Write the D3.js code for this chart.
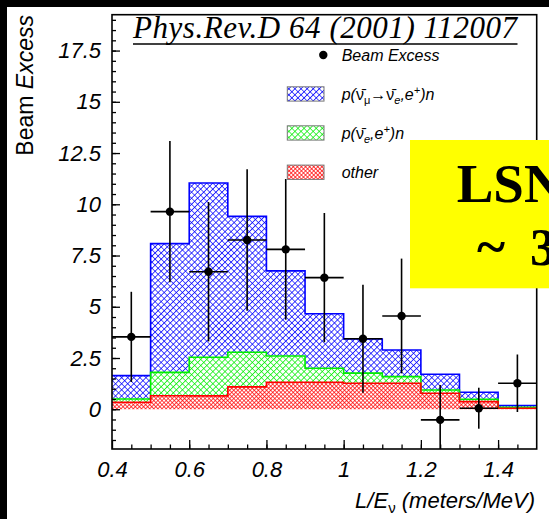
<!DOCTYPE html>
<html>
<head>
<meta charset="utf-8">
<script src="https://cdn.jsdelivr.net/npm/d3@7"></script>
<style>
  body { margin: 0; background: #fff; }
  text { font-family: "Liberation Sans", Arial, sans-serif; }
  .serif { font-family: "Liberation Serif", "Times New Roman", serif; }
</style>
</head>
<body>
<svg id="chart" width="549" height="519"></svg>
<script>
// bin lower edges of L/E (meters/MeV), each bin 0.1 wide
const binLo = [0.4, 0.5, 0.6, 0.7, 0.8, 0.9, 1.0, 1.1, 1.2, 1.3, 1.4];
const binWidth = 0.1;

// stacked expectations (not cumulative)
const other = [0.34, 0.66, 0.65, 1.09, 1.32, 1.32, 1.27, 1.27, 0.78, 0.37, 0.05];
const nueBkg = [0.16, 1.14, 1.89, 1.69, 1.28, 0.68, 0.49, 0.32, 0.16, 0.12, 0.05];
const oscSignal = [1.14, 6.28, 8.50, 6.63, 4.15, 2.66, 1.67, 1.30, 0.77, 0.34, 0.08];

// beam excess data points and their errors
const beamExcess = [3.53, 9.64, 6.71, 8.26, 7.80, 6.42, 3.44, 4.55, -0.52, 0.05, 1.27];
const beamErr = [2.2, 3.45, 3.4, 3.45, 3.43, 3.15, 2.64, 2.8, 1.7, 1.0, 1.4];

const yMajor = [0, 2.5, 5, 7.5, 10, 12.5, 15, 17.5];
const yLabels = ["0", "2.5", "5", "7.5", "10", "12.5", "15", "17.5"];
const xMajor = [0.4, 0.6, 0.8, 1.0, 1.2, 1.4];
const xLabels = ["0.4", "0.6", "0.8", "1", "1.2", "1.4"];

const svg = d3.select("#chart");
const frame = {left: 112, right: 536.7, top: 14.7, bottom: 449};

const x = d3.scaleLinear().domain([0.4, 1.5]).range([frame.left, frame.right]);
const y = d3.scaleLinear().domain([-1.94, 19.25]).range([frame.bottom, frame.top]);

// page background, with the dark slide edge on the left and top
svg.append("rect").attr("width", 549).attr("height", 519).attr("fill", "#fff");
svg.append("rect").attr("width", 7).attr("height", 519).attr("fill", "#000");
svg.append("rect").attr("width", 549).attr("height", 7).attr("fill", "#000");

const defs = svg.append("defs");
function hatch(id, color, size, sw) {
  const p = defs.append("pattern").attr("id", id)
    .attr("patternUnits", "userSpaceOnUse")
    .attr("width", size).attr("height", size)
    .attr("patternTransform", "rotate(45)");
  p.append("rect").attr("width", size).attr("height", size).attr("fill", "#fff");
  p.append("path").attr("d", `M0,0 H${size} M0,0 V${size}`)
    .attr("stroke", color).attr("stroke-width", sw * 2).attr("fill", "none");
  return "url(#" + id + ")";
}
const layerStyle = {
  osc: {color: "#0000ff", fill: hatch("hBlue", "#0000ff", 4.3, 0.75)},
  nue: {color: "#00ee00", fill: hatch("hGreen", "#00ee00", 4.3, 0.75)},
  other: {color: "#ff0000", fill: hatch("hRed", "#ff0000", 2.9, 0.7)}
};

svg.append("clipPath").attr("id", "plotClip")
  .append("rect").attr("x", frame.left).attr("y", frame.top)
  .attr("width", frame.right - frame.left).attr("height", frame.bottom - frame.top);

const table = binLo.map((lo, i) => ({lo: lo, other: other[i], nue: nueBkg[i], osc: oscSignal[i]}));
const stacked = d3.stack().keys(["other", "nue", "osc"])(table);

const plot = svg.append("g").attr("clip-path", "url(#plotClip)");

function stepPoints(layer) {
  const pts = layer.map(d => ({x: d.data.lo, y0: d[0], y1: d[1]}));
  const last = pts[pts.length - 1];
  pts.push({x: last.x + binWidth, y0: last.y0, y1: last.y1});
  return pts;
}
const area = d3.area().curve(d3.curveStepAfter)
  .x(d => x(d.x)).y0(d => y(d.y0)).y1(d => y(d.y1));
const topLine = d3.line().curve(d3.curveStepAfter)
  .x(d => x(d.x)).y(d => y(d.y1));

// draw the top layer first so lower layers sit over it, like ROOT's stack
stacked.slice().reverse().forEach(layer => {
  const pts = stepPoints(layer);
  plot.append("path").attr("d", area(pts)).attr("fill", layerStyle[layer.key].fill);
});
stacked.slice().reverse().forEach(layer => {
  const pts = stepPoints(layer);
  plot.append("path").attr("d", topLine(pts)).attr("fill", "none")
    .attr("stroke", layerStyle[layer.key].color).attr("stroke-width", 1.6);
});

// data points with error bars
const pts = plot.append("g").selectAll("g").data(binLo).join("g");
pts.append("line")
  .attr("x1", d => x(d)).attr("x2", d => x(d + binWidth))
  .attr("y1", (d, i) => y(beamExcess[i])).attr("y2", (d, i) => y(beamExcess[i]))
  .attr("stroke", "#000").attr("stroke-width", 1.6);
pts.append("line")
  .attr("x1", d => x(d + binWidth / 2)).attr("x2", d => x(d + binWidth / 2))
  .attr("y1", (d, i) => y(beamExcess[i] - beamErr[i]))
  .attr("y2", (d, i) => y(beamExcess[i] + beamErr[i]))
  .attr("stroke", "#000").attr("stroke-width", 1.6);
pts.append("circle")
  .attr("cx", d => x(d + binWidth / 2)).attr("cy", (d, i) => y(beamExcess[i]))
  .attr("r", 4.2).attr("fill", "#000");

// axes, ticks pointing into the frame
const yAxis = svg.append("g").attr("transform", `translate(${frame.left},0)`)
  .call(d3.axisLeft(y).tickValues(yMajor).tickSize(-8).tickPadding(11)
    .tickFormat((d, i) => yLabels[i]));
const yMinor = svg.append("g").attr("transform", `translate(${frame.left},0)`)
  .call(d3.axisLeft(y).tickValues(d3.range(-1.5, 19.01, 0.5)).tickSize(-4).tickFormat(""));
const xAxis = svg.append("g").attr("transform", `translate(0,${frame.bottom})`)
  .call(d3.axisBottom(x).tickValues(xMajor).tickSize(-9).tickPadding(12)
    .tickFormat((d, i) => xLabels[i]));
const xMinor = svg.append("g").attr("transform", `translate(0,${frame.bottom})`)
  .call(d3.axisBottom(x).tickValues(d3.range(0.45, 1.5, 0.05)).tickSize(-4.5).tickFormat(""));
[yAxis, yMinor, xAxis, xMinor].forEach(g => {
  g.select(".domain").remove();
  g.selectAll("line").attr("stroke", "#000").attr("stroke-width", 1.3);
  g.selectAll("text").attr("font-size", 22).attr("font-style", "italic").attr("fill", "#000");
});

svg.append("rect").attr("x", frame.left).attr("y", frame.top)
  .attr("width", frame.right - frame.left).attr("height", frame.bottom - frame.top)
  .attr("fill", "none").attr("stroke", "#000").attr("stroke-width", 1.6);

// axis titles
const yTitle = svg.append("text").attr("transform", "translate(33,15) rotate(-90)")
  .attr("text-anchor", "end").attr("font-size", 23);
yTitle.append("tspan").text("Beam ");
yTitle.append("tspan").attr("font-style", "italic").text("Excess");

const xTitle = svg.append("text").attr("x", 535).attr("y", 508)
  .attr("text-anchor", "end").attr("font-size", 22).attr("font-style", "italic");
xTitle.append("tspan").text("L/E");
xTitle.append("tspan").attr("font-size", 15).attr("dy", 5).attr("font-style", "normal").text("ν");
xTitle.append("tspan").attr("dy", -5).text(" (meters/MeV)");

// reference title
svg.append("text").attr("class", "serif").attr("x", 133).attr("y", 38)
  .attr("font-size", 31).attr("font-style", "italic").attr("textLength", 384)
  .text("Phys.Rev.D 64 (2001) 112007");
svg.append("line").attr("x1", 133).attr("x2", 517.5).attr("y1", 44).attr("y2", 44)
  .attr("stroke", "#000").attr("stroke-width", 1.5);

// legend
const legend = svg.append("g");
legend.append("circle").attr("cx", 323.3).attr("cy", 55).attr("r", 4.2).attr("fill", "#000");
legend.append("text").attr("x", 341.7).attr("y", 60.5).attr("font-size", 16)
  .attr("font-style", "italic").text("Beam Excess");

const legendRows = [
  {key: "osc", cy: 94},
  {key: "nue", cy: 133},
  {key: "other", cy: 172.3}
];
legendRows.forEach(r => {
  legend.append("rect").attr("x", 287.3).attr("y", r.cy - 7.2)
    .attr("width", 36.7).attr("height", 14.3)
    .attr("fill", layerStyle[r.key].fill).attr("stroke", "#777").attr("stroke-width", 1);
});

function nuLabel(cy, parts) {
  const t = legend.append("text").attr("x", 341.7).attr("y", cy + 5.5)
    .attr("font-size", 16).attr("font-style", "italic");
  parts.forEach(p => {
    const s = t.append("tspan").text(p.t);
    if (p.normal) s.attr("font-style", "normal");
    if (p.size) s.attr("font-size", p.size);
    if (p.dy) s.attr("dy", p.dy);
  });
}
nuLabel(94, [
  {t: "p("}, {t: "ν\u0304", normal: true},
  {t: "μ", normal: true, size: 11, dy: 4},
  {t: "→ν\u0304", normal: true, dy: -4},
  {t: "e", size: 11, dy: 4}, {t: ",e", dy: -4},
  {t: "+", size: 11, dy: -6}, {t: ")n", dy: 6}
]);
nuLabel(133, [
  {t: "p("}, {t: "ν\u0304", normal: true},
  {t: "e", size: 11, dy: 4}, {t: ",e", dy: -4},
  {t: "+", size: 11, dy: -6}, {t: ")n", dy: 6}
]);
legend.append("text").attr("x", 341.7).attr("y", 177.8).attr("font-size", 16)
  .attr("font-style", "italic").text("other");

// slide overlay box
svg.append("rect").attr("x", 410).attr("y", 140).attr("width", 139).attr("height", 148.3)
  .attr("fill", "#ffff00");
svg.append("text").attr("class", "serif").attr("x", 456.7).attr("y", 201.7)
  .attr("font-size", 55).attr("font-weight", "bold").text("LSND");
svg.append("text").attr("class", "serif").attr("x", 477).attr("y", 265)
  .attr("font-size", 54).attr("font-weight", "bold").text("~");
svg.append("text").attr("class", "serif").attr("x", 530).attr("y", 265)
  .attr("font-size", 52).attr("font-weight", "bold").text("3.8σ");
</script>
</body>
</html>
